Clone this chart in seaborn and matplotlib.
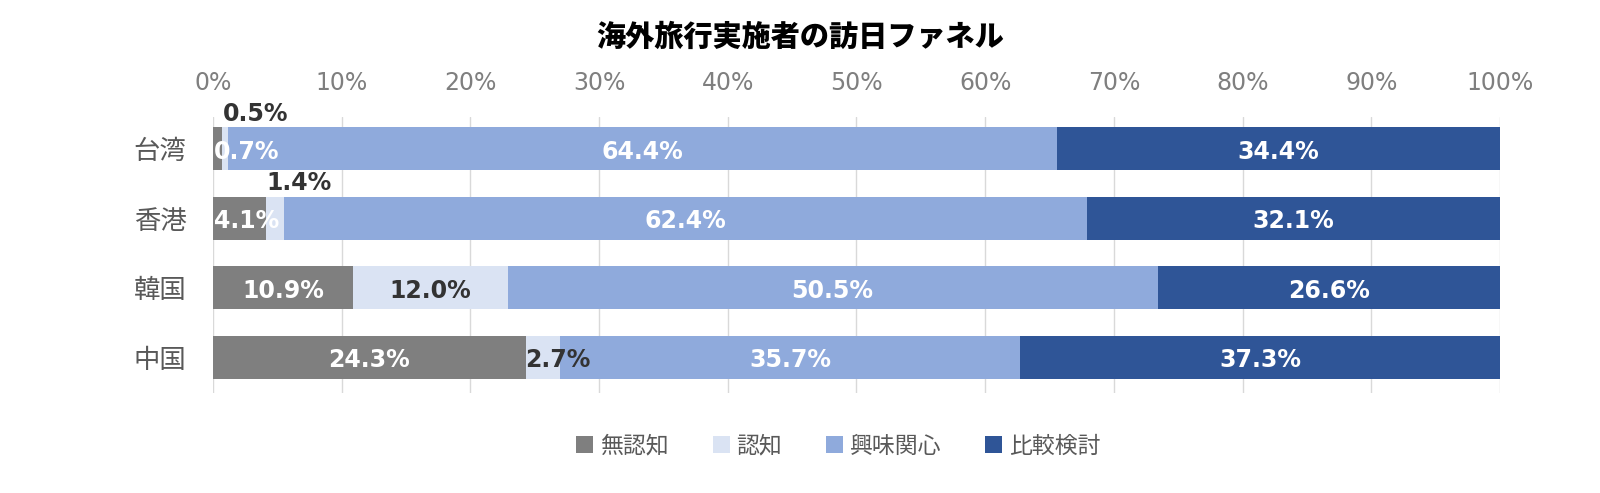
import numpy as np
import pandas as pd
import matplotlib
matplotlib.use("Agg")
import matplotlib.pyplot as plt
from matplotlib.patches import Patch
import seaborn as sns

regions = ["台湾", "香港", "韓国", "中国"]
stages = ["無認知", "認知", "興味関心", "比較検討"]
unaware = [0.7, 4.1, 10.9, 24.3]
aware = [0.5, 1.4, 12.0, 2.7]
interest = [64.4, 62.4, 50.5, 35.7]
compare = [34.4, 32.1, 26.6, 37.3]

colors = ["#7f7f7f", "#dae3f3", "#8faadc", "#2f5597"]
label_colors = ["white", "#333333", "white", "white"]

sns.set_style("white")
plt.rcParams["font.family"] = ["Noto Sans CJK JP", "DejaVu Sans"]
num_font = ["DejaVu Sans"]

values = np.array([unaware, aware, interest, compare])
cum = np.cumsum(values, axis=0)

fig = plt.figure(figsize=(16, 4.93), dpi=100)
ax = fig.add_axes([0.133, 0.203, 0.8045, 0.56])

# stacked bars: draw cumulative totals from the back to the front
for i in range(len(stages) - 1, -1, -1):
    df = pd.DataFrame({"region": regions, "value": cum[i]})
    sns.barplot(data=df, x="value", y="region", order=regions, color=colors[i],
                saturation=1, width=0.62, orient="h", ax=ax, linewidth=0)

# labels
for r in range(len(regions)):
    for i in range(len(stages)):
        v = values[i][r]
        start = cum[i][r] - v
        txt = f"{v:.1f}%"
        kw = dict(fontsize=17, fontweight="bold", family=num_font)
        if i == 1 and v < 2:
            # tiny 認知 slice: label sits above the bar
            ax.text(start + 0.1, r - 0.33, txt, ha="left", va="bottom",
                    color="#333333", **kw)
        elif i == 0 and v < 5:
            ax.text(0.1, r + 0.04, txt, ha="left", va="center", color="white", **kw)
        elif v < 5:
            ax.text(start, r + 0.04, txt, ha="left", va="center",
                    color=label_colors[i], **kw)
        else:
            ax.text(start + v / 2, r + 0.04, txt, ha="center", va="center",
                    color=label_colors[i], **kw)

ax.set_xlim(0, 100)
ax.set_ylim(3.51, -0.46)
ax.xaxis.tick_top()
ax.set_xticks(range(0, 101, 10))
ax.set_xticklabels([f"{t}%" for t in range(0, 101, 10)], family=num_font)
ax.tick_params(axis="x", length=0, pad=16, labelsize=17, labelcolor="#7f7f7f")
ax.tick_params(axis="y", length=0, pad=19, labelsize=19, labelcolor="#595959")
ax.set_xlabel("")
ax.set_ylabel("")
ax.grid(axis="x", color="#d9d9d9", linewidth=1)
ax.set_axisbelow(True)
for s in ax.spines.values():
    s.set_visible(False)

fig.text(0.5, 0.925, "海外旅行実施者の訪日ファネル", ha="center", va="center",
         fontsize=21, fontweight="heavy", color="black")

handles = [Patch(facecolor=c, edgecolor="none") for c in colors]
fig.legend(handles, stages, loc="center", bbox_to_anchor=(0.524, 0.095), ncol=4,
           frameon=False, fontsize=16.5, handlelength=0.75, handleheight=0.75,
           handletextpad=0.3, columnspacing=1.9, labelcolor="#595959")

fig.savefig("out.png", dpi=100)
